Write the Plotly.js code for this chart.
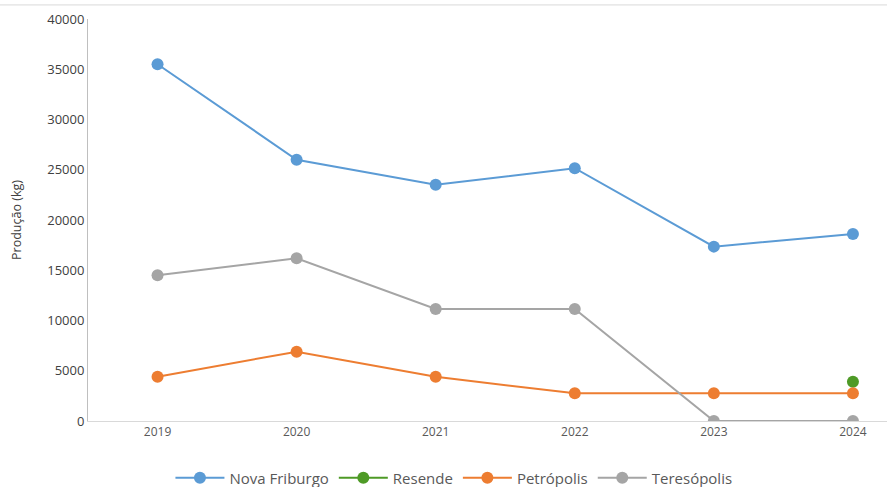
<!DOCTYPE html>
<html>
<head>
<meta charset="utf-8">
<script src="https://cdn.plot.ly/plotly-3.0.1.min.js"></script>
<style>html,body{margin:0;padding:0;background:#fff;}#chart{width:887px;height:487px;}</style>
</head>
<body>
<div id="chart"></div>
<script>
const years = ["2019", "2020", "2021", "2022", "2023", "2024"];
const novaFriburgo = [35500, 26000, 23500, 25150, 17350, 18600];
const resende = [null, null, null, null, null, 3900];
const petropolis = [4400, 6900, 4400, 2750, 2750, 2750];
const teresopolis = [14500, 16200, 11150, 11150, 0, 0];
const yTicks = [0, 5000, 10000, 15000, 20000, 25000, 30000, 35000, 40000];

const seriesNames = ["Nova Friburgo", "Resende", "Petrópolis", "Teresópolis"];
const seriesColors = ["#5b9bd5", "#4e9a26", "#ed7d31", "#a5a5a5"];
const seriesData = [novaFriburgo, resende, petropolis, teresopolis];

const traces = seriesData.map((vals, i) => ({
  x: years,
  y: vals,
  name: seriesNames[i],
  type: "scatter",
  mode: "lines+markers",
  line: {color: seriesColors[i], width: 2},
  marker: {color: seriesColors[i], size: 12},
  connectgaps: false
}));

const layout = {
  width: 887, height: 487,
  margin: {l: 88, r: 0, t: 19, b: 66, autoexpand: false},
  paper_bgcolor: "#fff", plot_bgcolor: "#fff",
  font: {family: "Open Sans, sans-serif", color: "#595959", size: 12},
  showlegend: true,
  legend: {orientation: "h", x: 0.458, xanchor: "center", y: -0.142, yanchor: "middle",
    itemwidth: 49, font: {size: 15, color: "#595959"}, traceorder: "normal"},
  xaxis: {
    type: "category", range: [-0.5, 5.245], automargin: false,
    showgrid: false, zeroline: false,
    showline: true, linecolor: "#d9d9d9", linewidth: 1,
    ticks: "", tickfont: {size: 12, color: "#595959"}, fixedrange: true
  },
  yaxis: {
    range: [0, 40000], tickvals: yTicks, ticktext: yTicks.map(String), automargin: false,
    showgrid: false, zeroline: false,
    showline: true, linecolor: "#bfbfbf", linewidth: 1,
    ticks: "", ticklen: 0, tickfont: {size: 13, color: "#404040"},
    title: {text: "Produção (kg)", font: {size: 12.5, color: "#404040"}, standoff: 22},
    fixedrange: true
  },
  shapes: [{type: "line", xref: "paper", yref: "paper", x0: -0.2, x1: 1.1, y0: 1.035, y1: 1.035,
    line: {color: "#d9d9d9", width: 1}}]
};

Plotly.newPlot("chart", traces, layout, {displayModeBar: false, staticPlot: true});
</script>
</body>
</html>
